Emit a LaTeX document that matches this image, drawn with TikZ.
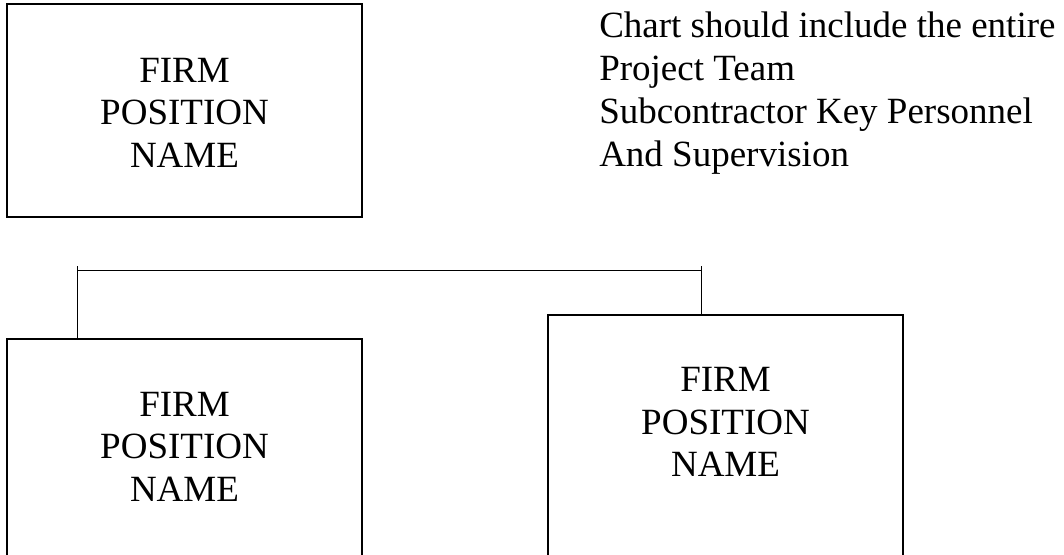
\documentclass[tikz,border=0pt]{standalone}
\usepackage{fontspec}
\setmainfont{Liberation Serif}
\begin{document}
\begin{tikzpicture}[x=0.75pt,y=-0.75pt,
  box/.style={draw=black,line width=1.2pt,minimum width=355*0.75pt,inner sep=0pt,outer sep=0pt},
  txt/.style={align=center,inner sep=0pt,font=\fontsize{27.75pt}{32pt}\selectfont},
  note/.style={align=left,inner sep=0pt,anchor=north west,font=\fontsize{27.75pt}{32.25pt}\selectfont},
  link/.style={draw=black,line width=1pt}]
\useasboundingbox (0,0) rectangle (1064,554);
\node[box,minimum height=213*0.75pt] (top) at (184.5,110.5) {};
\node[box,minimum height=240*0.75pt] (left) at (184.5,459) {};
\node[box,minimum height=260*0.75pt] (right) at (725.5,445) {};
\node[txt] (ttop) at (184.5,112.7) {FIRM\\POSITION\\NAME};
\node[txt] (tleft) at (184.5,446.7) {FIRM\\POSITION\\NAME};
\node[txt] (tright) at (725.5,422.2) {FIRM\\POSITION\\NAME};
\node[note] (note) at (599,11.2) {Chart should include the entire\\Project Team\\Subcontractor Key Personnel\\And Supervision};
\coordinate (hl) at (77.7,270.5);
\coordinate (hr) at (701.7,270.5);
\draw[link] (77.7,266) -- (left.north -| hl);
\draw[link] (701.7,266) -- (right.north -| hr);
\draw[link,line width=0.8pt] (hl) -- (hr);
\end{tikzpicture}
\end{document}
